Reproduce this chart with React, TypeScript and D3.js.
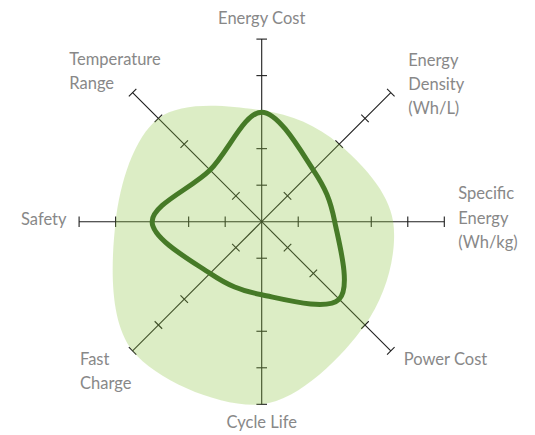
import React, { useEffect, useRef } from 'react';
import * as d3 from 'd3';

const axes = ['Energy Cost', 'Energy Density (Wh/L)', 'Specific Energy (Wh/kg)', 'Power Cost', 'Cycle Life', 'Fast Charge', 'Safety', 'Temperature Range'];
const labelLines = [['Energy Cost'], ['Energy', 'Density', '(Wh/L)'], ['Specific', 'Energy', '(Wh/kg)'], ['Power Cost'], ['Cycle Life'], ['Fast', 'Charge'], ['Safety'], ['Temperature', 'Range']];
const areaValues = [3.05, 3, 3.6, 4, 5, 5, 4, 4];
const lineValues = [3, 2, 2, 3, 2, 2, 3, 2];
const ticks = [1, 2, 3, 4, 5];

export default function App() {
    const svgRef = useRef<SVGSVGElement>(null);

    const width = 535;
    const height = 435;
    const cx = 261.7;
    const cy = 221.7;
    const radius = 182.6;

    useEffect(() => {
        const svg = d3.select(svgRef.current)
            .attr('width', width)
            .attr('height', height);

        svg.selectAll('*').remove();

        const rScale = d3.scaleLinear().domain([0, 5]).range([0, radius]);
        const angle = (i: number) => (i * 2 * Math.PI) / axes.length;

        const g = svg.append('g')
            .attr('transform', `translate(${cx}, ${cy})`);

        // axes + ticks
        axes.forEach((a, i) => {
            const ang = angle(i);
            const ux = Math.sin(ang);
            const uy = -Math.cos(ang);
            g.append('line')
                .attr('x1', 0).attr('y1', 0)
                .attr('x2', ux * rScale(5)).attr('y2', uy * rScale(5))
                .attr('stroke', '#1e1e1e')
                .attr('stroke-width', 1.1);
            ticks.forEach(t => {
                const px = ux * rScale(t);
                const py = uy * rScale(t);
                g.append('line')
                    .attr('x1', px - uy * 5.3).attr('y1', py + ux * 5.3)
                    .attr('x2', px + uy * 5.3).attr('y2', py - ux * 5.3)
                    .attr('stroke', '#1e1e1e')
                    .attr('stroke-width', 1.1);
            });
        });

        const radial = (vals: number[]) => d3.lineRadial<number>()
            .angle((d, i) => angle(i))
            .radius(d => rScale(d))
            .curve(d3.curveCardinalClosed)(vals);

        g.append('path')
            .attr('d', radial(areaValues))
            .attr('fill', '#8cc43f')
            .attr('fill-opacity', 0.3);

        g.append('path')
            .attr('d', radial(lineValues))
            .attr('fill', 'none')
            .attr('stroke', '#467a27')
            .attr('stroke-width', 5);

        // label placement: [anchor, dx, dy of first baseline] relative to axis end
        const place: [string, number, number][] = [
            ['middle', 0, -15],
            ['start', 17.5, -27],
            ['start', 14, -22.4],
            ['start', 13, 14],
            ['middle', 0, 24],
            ['start', -52.6, 14],
            ['end', -12.6, 3.3],
            ['start', -63.3, -27.7],
        ];

        labelLines.forEach((lines, i) => {
            const ang = angle(i);
            const ex = Math.sin(ang) * rScale(5);
            const ey = -Math.cos(ang) * rScale(5);
            const [anchor, dx, dy] = place[i];
            const text = g.append('text')
                .attr('text-anchor', anchor)
                .attr('font-family', 'Lato, sans-serif')
                .attr('font-size', 16.5)
                .attr('fill', '#888888');
            lines.forEach((l, j) => {
                text.append('tspan')
                    .attr('x', ex + dx)
                    .attr('y', ey + dy + j * 24.3)
                    .text(l);
            });
        });
    });

    return (
        <div style={{ position: 'absolute', left: 0, top: 0 }}>
            <svg ref={svgRef}></svg>
        </div>
    );
}
